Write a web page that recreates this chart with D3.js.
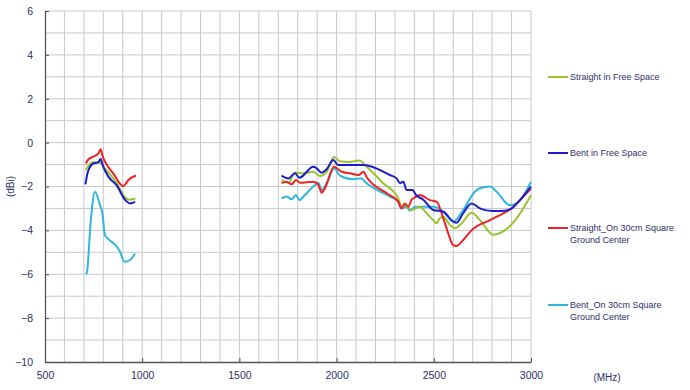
<!DOCTYPE html>
<html>
<head>
<meta charset="utf-8">
<script src="https://cdn.jsdelivr.net/npm/d3@7"></script>
<style>
  body { margin: 0; background: #fff; }
  text { font-family: Arial, "Liberation Sans", sans-serif; fill: #2e2e66; }
</style>
</head>
<body>
<div id="chart"></div>
<script>
// axis ticks
var xTicks = [500, 1000, 1500, 2000, 2500, 3000];
var yTicks = [-10, -8, -6, -4, -2, 0, 2, 4, 6];

// series names (legend)
var seriesNames = ["Straight in Free Space", "Bent in Free Space",
    "Straight_On 30cm Square Ground Center", "Bent_On 30cm Square Ground Center"];

// [MHz, dBi], low band and high band
var straightFreeLow = [[710,-1.25],[720,-1.1],[748,-0.9],[775,-0.9],[790,-0.95],[805,-1.15],[830,-1.4],[870,-1.85],[903,-2.4],[937,-2.6],[965,-2.55]];
var straightFreeHigh = [[1717,-1.7],[1752,-1.83],[1786,-1.36],[1829,-1.4],[1880,-1.33],[1914,-1.52],[1949,-1.33],[1987,-0.65],[2017,-0.85],[2060,-0.88],[2120,-0.82],[2146,-1.02],[2240,-1.85],[2317,-2.54],[2334,-2.92],[2351,-2.84],[2386,-3.07],[2428,-2.92],[2463,-3.22],[2497,-3.53],[2514,-3.68],[2531,-3.45],[2549,-3.38],[2583,-3.75],[2609,-3.9],[2643,-3.68],[2694,-3.2],[2737,-3.53],[2806,-4.2],[2857,-4.05],[2926,-3.45],[3000,-2.4]];

var bentFreeLow = [[708,-1.9],[720,-1.35],[748,-0.95],[774,-0.9],[786,-0.75],[800,-1.1],[826,-1.55],[869,-1.95],[911,-2.6],[937,-2.77],[963,-2.7]];
var bentFreeHigh = [[1717,-1.5],[1752,-1.63],[1786,-1.4],[1808,-1.6],[1880,-1.1],[1897,-1.17],[1923,-1.37],[1949,-1.21],[1983,-0.79],[2008,-1.02],[2138,-1.02],[2275,-1.48],[2309,-1.63],[2326,-1.85],[2343,-1.78],[2360,-2.16],[2390,-2.16],[2410,-2.4],[2446,-2.6],[2497,-3.07],[2549,-3.15],[2600,-3.6],[2617,-3.65],[2651,-3.22],[2694,-2.77],[2737,-3.0],[2800,-3.12],[2866,-3.1],[2900,-3.0],[2943,-2.62],[3000,-2.0]];

var straightGndLow = [[710,-0.95],[720,-0.8],[748,-0.64],[774,-0.5],[786,-0.3],[797,-0.64],[817,-1.0],[851,-1.4],[903,-1.98],[929,-1.7],[968,-1.5]];
var straightGndHigh = [[1717,-1.85],[1743,-1.78],[1769,-1.9],[1791,-1.7],[1812,-1.83],[1880,-1.78],[1906,-1.93],[1923,-2.28],[1940,-2.08],[1987,-1.1],[2026,-1.33],[2069,-1.4],[2112,-1.48],[2138,-1.33],[2155,-1.58],[2258,-2.31],[2317,-2.69],[2334,-3.0],[2351,-2.77],[2369,-2.92],[2386,-2.6],[2403,-2.5],[2428,-2.39],[2480,-2.62],[2514,-2.69],[2549,-3.45],[2574,-4.13],[2600,-4.67],[2617,-4.71],[2651,-4.44],[2694,-4.0],[2789,-3.53],[2857,-3.22],[2900,-3.0],[2943,-2.62],[3000,-2.1]];

var bentGndLow = [[710,-6.0],[716,-5.9],[735,-3.6],[757,-2.24],[783,-2.85],[795,-3.2],[808,-4.2],[826,-4.4],[860,-4.65],[886,-4.97],[908,-5.43],[937,-5.35],[963,-5.05]];
var bentGndHigh = [[1717,-2.54],[1743,-2.46],[1769,-2.58],[1791,-2.39],[1808,-2.62],[1837,-2.39],[1880,-2.0],[1906,-1.83],[1923,-2.16],[1957,-1.7],[1987,-1.17],[2017,-1.5],[2086,-1.67],[2129,-1.63],[2146,-1.78],[2275,-2.46],[2317,-2.69],[2334,-3.0],[2360,-2.92],[2377,-3.1],[2403,-2.92],[2500,-2.92],[2549,-3.15],[2600,-3.6],[2651,-3.07],[2711,-2.24],[2737,-2.08],[2789,-2.0],[2823,-2.24],[2891,-2.85],[2926,-2.77],[3000,-1.78]];

var colors = ["#99c430", "#1c1cc8", "#ee2222", "#2fb6dc"];

// define size plot
var margin = {top: 11, right: 159, bottom: 28, left: 45},
    width = 690,
    height = 390;

var svg = d3.select("#chart").append("svg")
    .attr("width", width)
    .attr("height", height);

var x = d3.scaleLinear().domain([500, 3000]).range([margin.left, width - margin.right]);
var y = d3.scaleLinear().domain([-10, 6]).range([height - margin.bottom, margin.top]);

// grid: every 100 MHz and every 1 dB
svg.append("g")
    .selectAll("line")
    .data(d3.range(600, 3001, 100))
    .enter().append("line")
    .attr("x1", function (d) { return x(d); })
    .attr("x2", function (d) { return x(d); })
    .attr("y1", y(-10))
    .attr("y2", y(6))
    .attr("stroke", "#c8c8c8")
    .attr("stroke-width", 1);

svg.append("g")
    .selectAll("line")
    .data(d3.range(-9, 7, 1))
    .enter().append("line")
    .attr("x1", x(500))
    .attr("x2", x(3000))
    .attr("y1", function (d) { return y(d); })
    .attr("y2", function (d) { return y(d); })
    .attr("stroke", "#c8c8c8")
    .attr("stroke-width", 1);

// axes
var xAxis = svg.append("g")
    .attr("transform", "translate(0," + y(-10) + ")")
    .call(d3.axisBottom(x).tickValues(xTicks).tickFormat(d3.format("d"))
        .tickSizeInner(-4).tickSizeOuter(0).tickPadding(10));
var yAxis = svg.append("g")
    .attr("transform", "translate(" + x(500) + ",0)")
    .call(d3.axisLeft(y).tickValues(yTicks).tickSizeInner(-4).tickSizeOuter(0).tickPadding(12));

[xAxis, yAxis].forEach(function (a) {
    a.select(".domain").attr("stroke", "#555").attr("stroke-width", 1.3);
    a.selectAll(".tick line").attr("stroke", "#555");
    a.selectAll("text").attr("font-size", 10.5).attr("fill", "#2e2e66");
});

svg.append("text")
    .attr("transform", "translate(14," + y(-2) + ") rotate(-90)")
    .attr("text-anchor", "middle")
    .attr("font-size", 10)
    .text("(dBi)");

svg.append("text")
    .attr("x", 607)
    .attr("y", 381)
    .attr("text-anchor", "middle")
    .attr("font-size", 10)
    .text("(MHz)");

// lines
var line = d3.line()
    .x(function (d) { return x(d[0]); })
    .y(function (d) { return y(d[1]); })
    .curve(d3.curveMonotoneX);

var series = [
    [straightFreeLow, straightFreeHigh],
    [bentFreeLow, bentFreeHigh],
    [straightGndLow, straightGndHigh],
    [bentGndLow, bentGndHigh]
];

// draw cyan first so others lie on top, like the picture
[3, 0, 2, 1].forEach(function (i) {
    series[i].forEach(function (seg) {
        svg.append("path")
            .datum(seg)
            .attr("d", line)
            .attr("fill", "none")
            .attr("stroke", colors[i])
            .attr("stroke-width", 2)
            .attr("stroke-linejoin", "round");
    });
});

// legend
var legendY = [77, 153, 228, 305];
var legend = svg.append("g").selectAll("g")
    .data(seriesNames)
    .enter().append("g")
    .attr("transform", function (d, i) { return "translate(548," + legendY[i] + ")"; });

legend.append("line")
    .attr("x1", 0).attr("x2", 20)
    .attr("stroke", function (d, i) { return colors[i]; })
    .attr("stroke-width", 2);

legend.append("text")
    .attr("x", 22)
    .attr("font-size", 9)
    .each(function (d) {
        var t = d3.select(this);
        var parts = d.indexOf("Ground") > 0 ? [d.replace(" Ground Center", ""), "Ground Center"] : [d];
        parts.forEach(function (p, j) {
            t.append("tspan")
                .attr("x", 22)
                .attr("dy", j === 0 ? "0.35em" : "1.35em")
                .text(p);
        });
    });
</script>
</body>
</html>
